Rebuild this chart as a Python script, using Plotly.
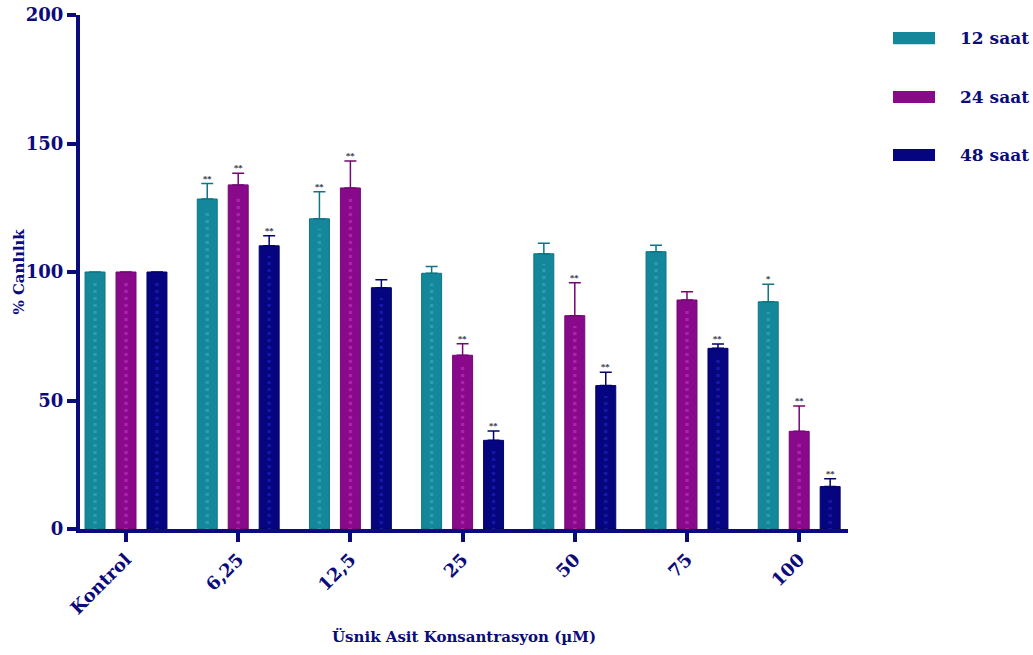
import plotly.graph_objects as go

# Usnic acid concentrations (x categories) and exposure times (series)
categories = ["Kontrol", "6,25", "12,5", "25", "50", "75", "100"]
series_names = ["12 saat", "24 saat", "48 saat"]

viability_12h = [100, 128.4, 120.7, 99.5, 107.1, 107.9, 88.4]
viability_24h = [100, 133.9, 132.7, 67.6, 83.0, 89.1, 38.0]
viability_48h = [100, 110.2, 93.9, 34.5, 55.8, 70.3, 16.5]

sd_12h = [0, 6.0, 10.5, 2.6, 4.1, 2.5, 6.8]
sd_24h = [0, 4.5, 10.5, 4.5, 12.8, 3.2, 9.9]
sd_48h = [0, 3.9, 3.1, 3.6, 5.2, 1.7, 3.1]

sig_12h = ["", "**", "**", "", "", "", "*"]
sig_24h = ["", "**", "**", "**", "**", "", "**"]
sig_48h = ["", "**", "", "**", "**", "**", "**"]

y_ticks = [0, 50, 100, 150, 200]

NAVY = "#0b0b7c"
colors = ["#14879a", "#880a8a", "#05057f"]
line_colors = ["#0f7484", "#720872", "#03036a"]
stripe_colors = ["#3fb6c6", "#d633d6", "#2a2ad0"]

values = [viability_12h, viability_24h, viability_48h]
errors = [sd_12h, sd_24h, sd_48h]
sigs = [sig_12h, sig_24h, sig_48h]

FONT = "DejaVu Serif"
bar_w = 0.178
step = 0.276
x_idx = list(range(len(categories)))

fig = go.Figure()
annotations = []

for k, name in enumerate(series_names):
    center = (k - 1) * step
    fig.add_trace(go.Bar(
        x=x_idx, y=values[k], name=name,
        width=bar_w, offset=center - bar_w / 2,
        marker=dict(color=colors[k], line=dict(color=line_colors[k], width=1)),
        error_y=dict(type="data", array=errors[k], arrayminus=[0] * len(errors[k]),
                     symmetric=False, color=line_colors[k], thickness=1.5, width=6),
        showlegend=False,
    ))
    # faint dashed stripe running down the middle of each bar
    fig.add_trace(go.Bar(
        x=x_idx, y=[v - 4 for v in values[k]],
        width=0.03, offset=center - 0.015,
        marker=dict(color=colors[k], line=dict(width=0),
                    pattern=dict(shape="-", fgcolor=stripe_colors[k], size=7,
                                 solidity=0.45, fillmode="overlay")),
        showlegend=False, hoverinfo="skip",
    ))
    for i, s in enumerate(sigs[k]):
        if s:
            annotations.append(dict(
                x=i + center, y=values[k][i] + errors[k][i], xref="x", yref="y",
                text="<b>%s</b>" % s, showarrow=False, yanchor="bottom", yshift=-1,
                font=dict(family=FONT, size=8, color="#1a1a3a"),
            ))

# manual legend with wide swatches
legend_y = [0.955, 0.8405, 0.7276]
shapes = []
for k, name in enumerate(series_names):
    shapes.append(dict(type="rect", xref="paper", yref="paper",
                       x0=1.0586, x1=1.1133,
                       y0=legend_y[k] - 0.0117, y1=legend_y[k] + 0.0117,
                       fillcolor=colors[k], line=dict(width=0)))
    annotations.append(dict(x=1.143, y=legend_y[k], xref="paper", yref="paper",
                            text="<b>%s</b>" % name, showarrow=False,
                            xanchor="left", yanchor="middle",
                            font=dict(family=FONT, size=17, color=NAVY)))

annotations.append(dict(x=0.5, y=-0.21, xref="paper", yref="paper",
                        text="<b>Üsnik Asit Konsantrasyon (µM)</b>", showarrow=False,
                        xanchor="center", yanchor="middle",
                        font=dict(family=FONT, size=15, color=NAVY)))

annotations.append(dict(x=-0.08, y=0.5, xref="paper", yref="paper",
                        text="<b>% Canlılık</b>", showarrow=False, textangle=-90,
                        xanchor="center", yanchor="middle",
                        font=dict(family=FONT, size=15, color=NAVY)))

fig.update_layout(
    width=1033, height=655,
    margin=dict(l=80, r=185, t=15, b=126),
    plot_bgcolor="white", paper_bgcolor="white",
    barmode="overlay",
    showlegend=False,
    annotations=annotations,
    shapes=shapes,
    font=dict(family=FONT, color=NAVY),
)

fig.update_xaxes(
    range=[-0.41, 6.435],
    tickmode="array", tickvals=x_idx,
    ticktext=["<b>%s</b>" % c for c in categories],
    tickangle=-45,
    tickfont=dict(family=FONT, size=18, color=NAVY),
    ticks="outside", ticklen=9, tickwidth=4, tickcolor=NAVY,
    showline=True, linecolor=NAVY, linewidth=4,
    showgrid=False, zeroline=False, automargin=False,
)

fig.update_yaxes(
    range=[0, 200],
    tickmode="array", tickvals=y_ticks,
    ticktext=["<b>%d</b>" % t for t in y_ticks],
    tickfont=dict(family=FONT, size=18, color=NAVY),
    ticks="outside", ticklen=9, tickwidth=4, tickcolor=NAVY,
    showline=True, linecolor=NAVY, linewidth=4,
    showgrid=False, zeroline=False, automargin=False,
)

fig.write_html("out.html")
